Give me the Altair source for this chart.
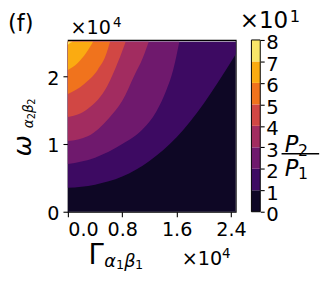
import altair as alt
import pandas as pd

# ---- data (x, y in units of 1e4; colour levels in units of 1) ----
X_MAX = 2.47
Y_MAX = 2.54
Y_TOP = 2.515

level_values = [0, 10, 20, 30, 40, 50, 60, 70, 80]
band_colors = ["#0e0725", "#3d0a62", "#6f196d", "#a22c60",
               "#d14744", "#f0731d", "#fbab11", "#f8e669"]

# boundaries between bands (contour lines)
b1_x = [0.0, 0.4, 0.8, 1.2, 1.6, 2.0, 2.2, 2.47]
b1_y = [0.353, 0.40, 0.52, 0.75, 1.10, 1.60, 1.90, 2.33]
b2_x = [0.0, 0.4, 0.8, 1.1, 1.3, 1.45, 1.55, 1.64]
b2_y = [0.706, 0.80, 1.00, 1.22, 1.48, 1.80, 2.10, 2.515]
b3_x = [0.0, 0.3, 0.6, 0.8, 0.98, 1.1, 1.19]
b3_y = [1.045, 1.12, 1.38, 1.64, 2.02, 2.27, 2.515]
b4_x = [0.0, 0.29, 0.58, 0.74, 0.85]
b4_y = [1.40, 1.52, 1.86, 2.22, 2.515]
b5_x = [0.0, 0.24, 0.44, 0.56, 0.62]
b5_y = [1.74, 1.89, 2.10, 2.32, 2.515]
b6_x = [0.0, 0.145, 0.27, 0.37]
b6_y = [2.095, 2.20, 2.35, 2.515]
b7_x = [0.0, 0.035, 0.07]
b7_y = [2.47, 2.50, 2.515]

boundaries = [(b1_x, b1_y), (b2_x, b2_y), (b3_x, b3_y), (b4_x, b4_y),
              (b5_x, b5_y), (b6_x, b6_y), (b7_x, b7_y)]

x_ticks = [0.0, 0.8, 1.6, 2.4]
y_ticks = [0, 1, 2]

FONT = "DejaVu Sans"
W, H = 171, 175

xscale = alt.Scale(domain=[0, X_MAX], nice=False, zero=False)
yscale = alt.Scale(domain=[0, Y_MAX], nice=False, zero=False)
xaxis = alt.Axis(values=x_ticks, format=".1f", title=None, orient="bottom",
                 labelPadding=4.5, tickSize=5)
yaxis = alt.Axis(values=y_ticks, format="d", title=None, orient="left",
                 labelPadding=4, tickSize=5, labelOffset=2)

bg = alt.Chart(pd.DataFrame({"x0": [0.0], "x1": [X_MAX], "y0": [0.0], "y1": [Y_TOP]})).mark_rect(
    color=band_colors[0]
).encode(
    x=alt.X("x0:Q", scale=xscale, axis=xaxis),
    x2="x1:Q",
    y=alt.Y("y0:Q", scale=yscale, axis=yaxis),
    y2="y1:Q",
)

areas = []
for k, (bx, by) in enumerate(boundaries, start=1):
    df = pd.DataFrame({"x0": bx, "y0": by, "y1": [Y_TOP] * len(bx)})
    areas.append(
        alt.Chart(df).mark_area(color=band_colors[k], interpolate="monotone", opacity=1).encode(
            x=alt.X("x0:Q", scale=xscale, axis=xaxis),
            y=alt.Y("y0:Q", scale=yscale, axis=yaxis, stack=None),
            y2="y1:Q",
        )
    )


def txt(s, x, y, size, italic=False, angle=0, align="left"):
    return alt.Chart(pd.DataFrame({"t": [s]})).mark_text(
        align=align, baseline="alphabetic", font=FONT, fontSize=size,
        fontStyle="italic" if italic else "normal", angle=angle, color="black",
    ).encode(text="t:N", x=alt.value(x), y=alt.value(y))


texts = [
    txt("(f)", -61, -9.3, 23),
    # offset text, top-left
    txt("×10", 2.7, -6.3, 19.5),
    txt("4", 46, -13, 13.6),
    # offset text, bottom-right
    txt("×10", 116, 229.7, 19.5),
    txt("4", 157, 222, 13.6),
    # colorbar offset text
    txt("×10", 175, -12, 23.5),
    txt("1", 226, -18.5, 16.5),
    # x title
    txt("Γ", 21, 228.7, 28),
    txt("α", 37, 231.5, 18, italic=True),
    txt("1", 49, 233.5, 13),
    txt("β", 57.5, 231.5, 18, italic=True),
    txt("1", 68.3, 233.5, 13),
    # y title (rotated)
    txt("ω", -38, 118.7, 26, italic=True, angle=270),
    txt("α", -35.5, 90, 14, italic=True, angle=270),
    txt("2", -33.5, 80.8, 10, angle=270),
    txt("β", -35.5, 74.4, 14, italic=True, angle=270),
    txt("2", -33.5, 65.9, 10, angle=270),
    # colorbar label P2 / P1
    txt("P", 221, 113.7, 23, italic=True),
    txt("2", 234.5, 118.7, 16),
    txt("P", 221, 138.7, 23, italic=True),
    txt("1", 234.5, 142, 16),
]

frac = alt.Chart(pd.DataFrame({"a": [0]})).mark_rule(color="black", strokeWidth=1.6).encode(
    x=alt.value(217.7), x2=alt.value(256), y=alt.value(116)
)

main = alt.layer(bg, *areas, *texts, frac)

cb_df = pd.DataFrame({"lo": level_values[:-1], "hi": level_values[1:], "c": band_colors})
cbar_rects = alt.Chart(cb_df).mark_rect().encode(
    x=alt.value(187), x2=alt.value(196),
    y=alt.Y("lo:Q", scale=alt.Scale(domain=[0, 80], nice=False),
            axis=alt.Axis(orient="right", offset=25, values=level_values,
                          labelExpr="datum.value / 10", title=None,
                          tickSize=4, labelPadding=1.5, labelFontSize=20,
                          labelOffset=3)),
    y2="hi:Q",
    color=alt.Color("c:N", scale=None),
)
cbar_outline = alt.Chart(pd.DataFrame({"a": [0]})).mark_rect(
    fill="transparent", stroke="black", strokeWidth=1
).encode(x=alt.value(187), x2=alt.value(196), y=alt.value(0), y2=alt.value(H))

cbar = alt.layer(cbar_rects, cbar_outline)

chart = alt.layer(main, cbar).resolve_scale(y="independent").properties(
    width=W, height=H,
    padding={"left": 61, "top": 30, "right": 93, "bottom": 68},
    autosize=alt.AutoSizeParams(type="none"),
    background="white",
).configure_axis(
    labelFont=FONT, labelFontSize=19.5, labelColor="black",
    tickColor="black", tickWidth=1.1, domain=False, grid=False,
).configure_view(stroke="black", strokeWidth=1.1)

chart.save("out.html", embed_options={"renderer": "svg", "actions": False})
